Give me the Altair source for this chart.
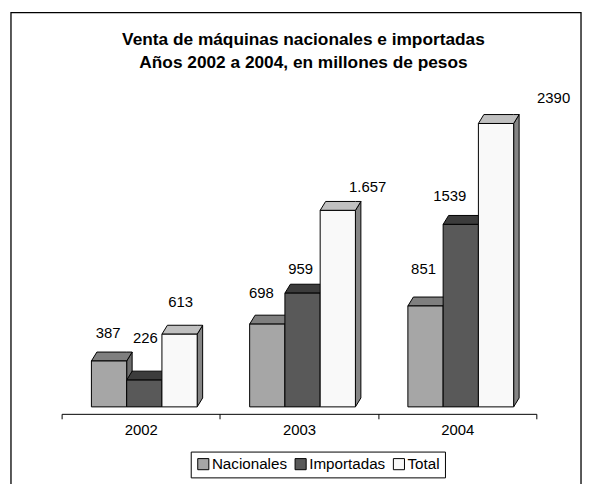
import altair as alt
import pandas as pd

# ---------------- data ----------------
years = ["2002", "2003", "2004"]
series = ["Nacionales", "Importadas", "Total"]
nacionales = [387, 698, 851]
importadas = [226, 959, 1539]
total = [613, 1657, 2390]
labels_nacionales = ["387", "698", "851"]
labels_importadas = ["226", "959", "1539"]
labels_total = ["613", "1.657", "2390"]

values = {"Nacionales": nacionales, "Importadas": importadas, "Total": total}
label_texts = {"Nacionales": labels_nacionales, "Importadas": labels_importadas, "Total": labels_total}

# ---------------- styles ----------------
FONT = "Liberation Sans"
front_colors = ["#A6A6A6", "#595959", "#F9F9F9"]
top_colors = ["#7F7F7F", "#3C3C3C", "#C0C0C0"]
side_colors = ["#6E6E6E", "#2E2E2E", "#858585"]

# label offsets (px) relative to the centre of each bar's front top edge
label_dx = {"Nacionales": [-1, -6, -2], "Importadas": [1, -2, -11], "Total": [1, 30, 58]}
label_dy = {"Nacionales": [-28, -31, -37], "Importadas": [-42, -24, -29], "Total": [-32, -24, -26]}

PLOT_W, PLOT_H = 478, 323
UX = PLOT_W / 3.0          # px per category
KY = 0.1194                # px per value unit
Y_MAX = PLOT_H / KY
bar_left = 30 / UX
bar_w = 35.5 / UX
depth_x = 5.5 / UX
depth_y = 9 / KY

fronts, sides, tops, labs = [], [], [], []
for j, s in enumerate(series):
    for i, yr in enumerate(years):
        v = values[s][i]
        x0 = i + bar_left + j * bar_w
        x1 = x0 + bar_w
        bid = f"{s}-{yr}"
        fronts.append({"series": s, "year": yr, "x": x0, "x2": x1, "y": 0, "y2": v})
        sides += [
            {"id": bid, "col": side_colors[j], "x": x1, "y": v, "y2": 0},
            {"id": bid, "col": side_colors[j], "x": x1 + depth_x, "y": v + depth_y, "y2": depth_y},
        ]
        tops += [
            {"id": bid, "col": top_colors[j], "x": x0, "y": v, "y2": v},
            {"id": bid, "col": top_colors[j], "x": x0 + depth_x, "y": v + depth_y, "y2": v},
            {"id": bid, "col": top_colors[j], "x": x1, "y": v + depth_y, "y2": v},
            {"id": bid, "col": top_colors[j], "x": x1 + depth_x, "y": v + depth_y, "y2": v + depth_y},
        ]
        labs.append({
            "text": label_texts[s][i],
            "x": (x0 + x1) / 2 + label_dx[s][i] / UX,
            "y": v - label_dy[s][i] / KY,
        })

df_front = pd.DataFrame(fronts)
df_side = pd.DataFrame(sides)
df_top = pd.DataFrame(tops)
df_lab = pd.DataFrame(labs)

label_expr = " : ".join(
    [f"datum.value == {i + 0.5} ? '{y}'" for i, y in enumerate(years)]
) + " : ''"

x_axis = alt.Axis(
    values=[0, 0.5, 1, 1.5, 2, 2.5, 3],
    labelExpr=label_expr,
    tickOpacity={"condition": {"test": "datum.value % 1 != 0", "value": 0}, "value": 1},
    tickSize=5, tickColor="black", tickWidth=1,
    domainColor="black", domainWidth=1,
    labelFont=FONT, labelFontSize=15, labelColor="black", labelPadding=4,
    labelFlush=False, labelOverlap=False,
    grid=False, title=None, offset=7,
)
X = alt.X("x:Q", scale=alt.Scale(domain=[0, 3], nice=False, zero=False), axis=x_axis)
Y = alt.Y("y:Q", scale=alt.Scale(domain=[0, Y_MAX], nice=False, zero=False), axis=None, stack=None)

side_layer = alt.Chart(df_side).mark_area(stroke="black", strokeWidth=1, opacity=1).encode(
    x=X, y=Y, y2="y2:Q",
    fill=alt.Fill("col:N", scale=None), detail="id:N",
)
top_layer = alt.Chart(df_top).mark_area(stroke="black", strokeWidth=1, opacity=1).encode(
    x=X, y=Y, y2="y2:Q",
    fill=alt.Fill("col:N", scale=None), detail="id:N",
)
front_layer = alt.Chart(df_front).mark_rect(stroke="black", strokeWidth=1).encode(
    x=X, x2="x2:Q", y=Y, y2="y2:Q",
    fill=alt.Fill(
        "series:N",
        scale=alt.Scale(domain=series, range=front_colors),
        legend=alt.Legend(
            orient="none", legendX=130, legendY=368, direction="horizontal",
            title=None, symbolType="square", symbolSize=125,
            symbolStrokeColor="black", symbolStrokeWidth=1,
            labelFont=FONT, labelFontSize=15.3, labelColor="black",
            labelOffset=1, columnPadding=6, padding=5,
            strokeColor="black", fillColor="white",
        ),
        sort=series,
    ),
)
label_layer = alt.Chart(df_lab).mark_text(
    font=FONT, fontSize=15, color="black", align="center", baseline="middle"
).encode(x=X, y=Y, text="text:N")

one = pd.DataFrame({"k": [0]})
title_layer = alt.Chart(one).mark_text(
    font=FONT, fontSize=17.4, fontWeight="bold", color="black",
    align="center", baseline="alphabetic", lineHeight=23.4,
).encode(
    x=alt.value(243.5), y=alt.value(-41.7),
    text=alt.value(["Venta de máquinas nacionales e importadas",
                    "Años 2002 a 2004, en millones de pesos"]),
)
frame_layer = alt.Chart(one).mark_rect(fill=None, stroke="black", strokeWidth=1.3).encode(
    x=alt.value(-51), x2=alt.value(523), y=alt.value(-74), y2=alt.value(430),
)

chart = alt.layer(
    frame_layer, side_layer, top_layer, front_layer, label_layer, title_layer
).properties(
    width=PLOT_W, height=PLOT_H,
    autosize=alt.AutoSizeParams(type="none"),
    padding={"left": 54, "top": 77, "right": 47, "bottom": 76},
    background="white",
).configure_view(stroke=None)

chart.save("out.html", embed_options={"renderer": "svg", "actions": False})
